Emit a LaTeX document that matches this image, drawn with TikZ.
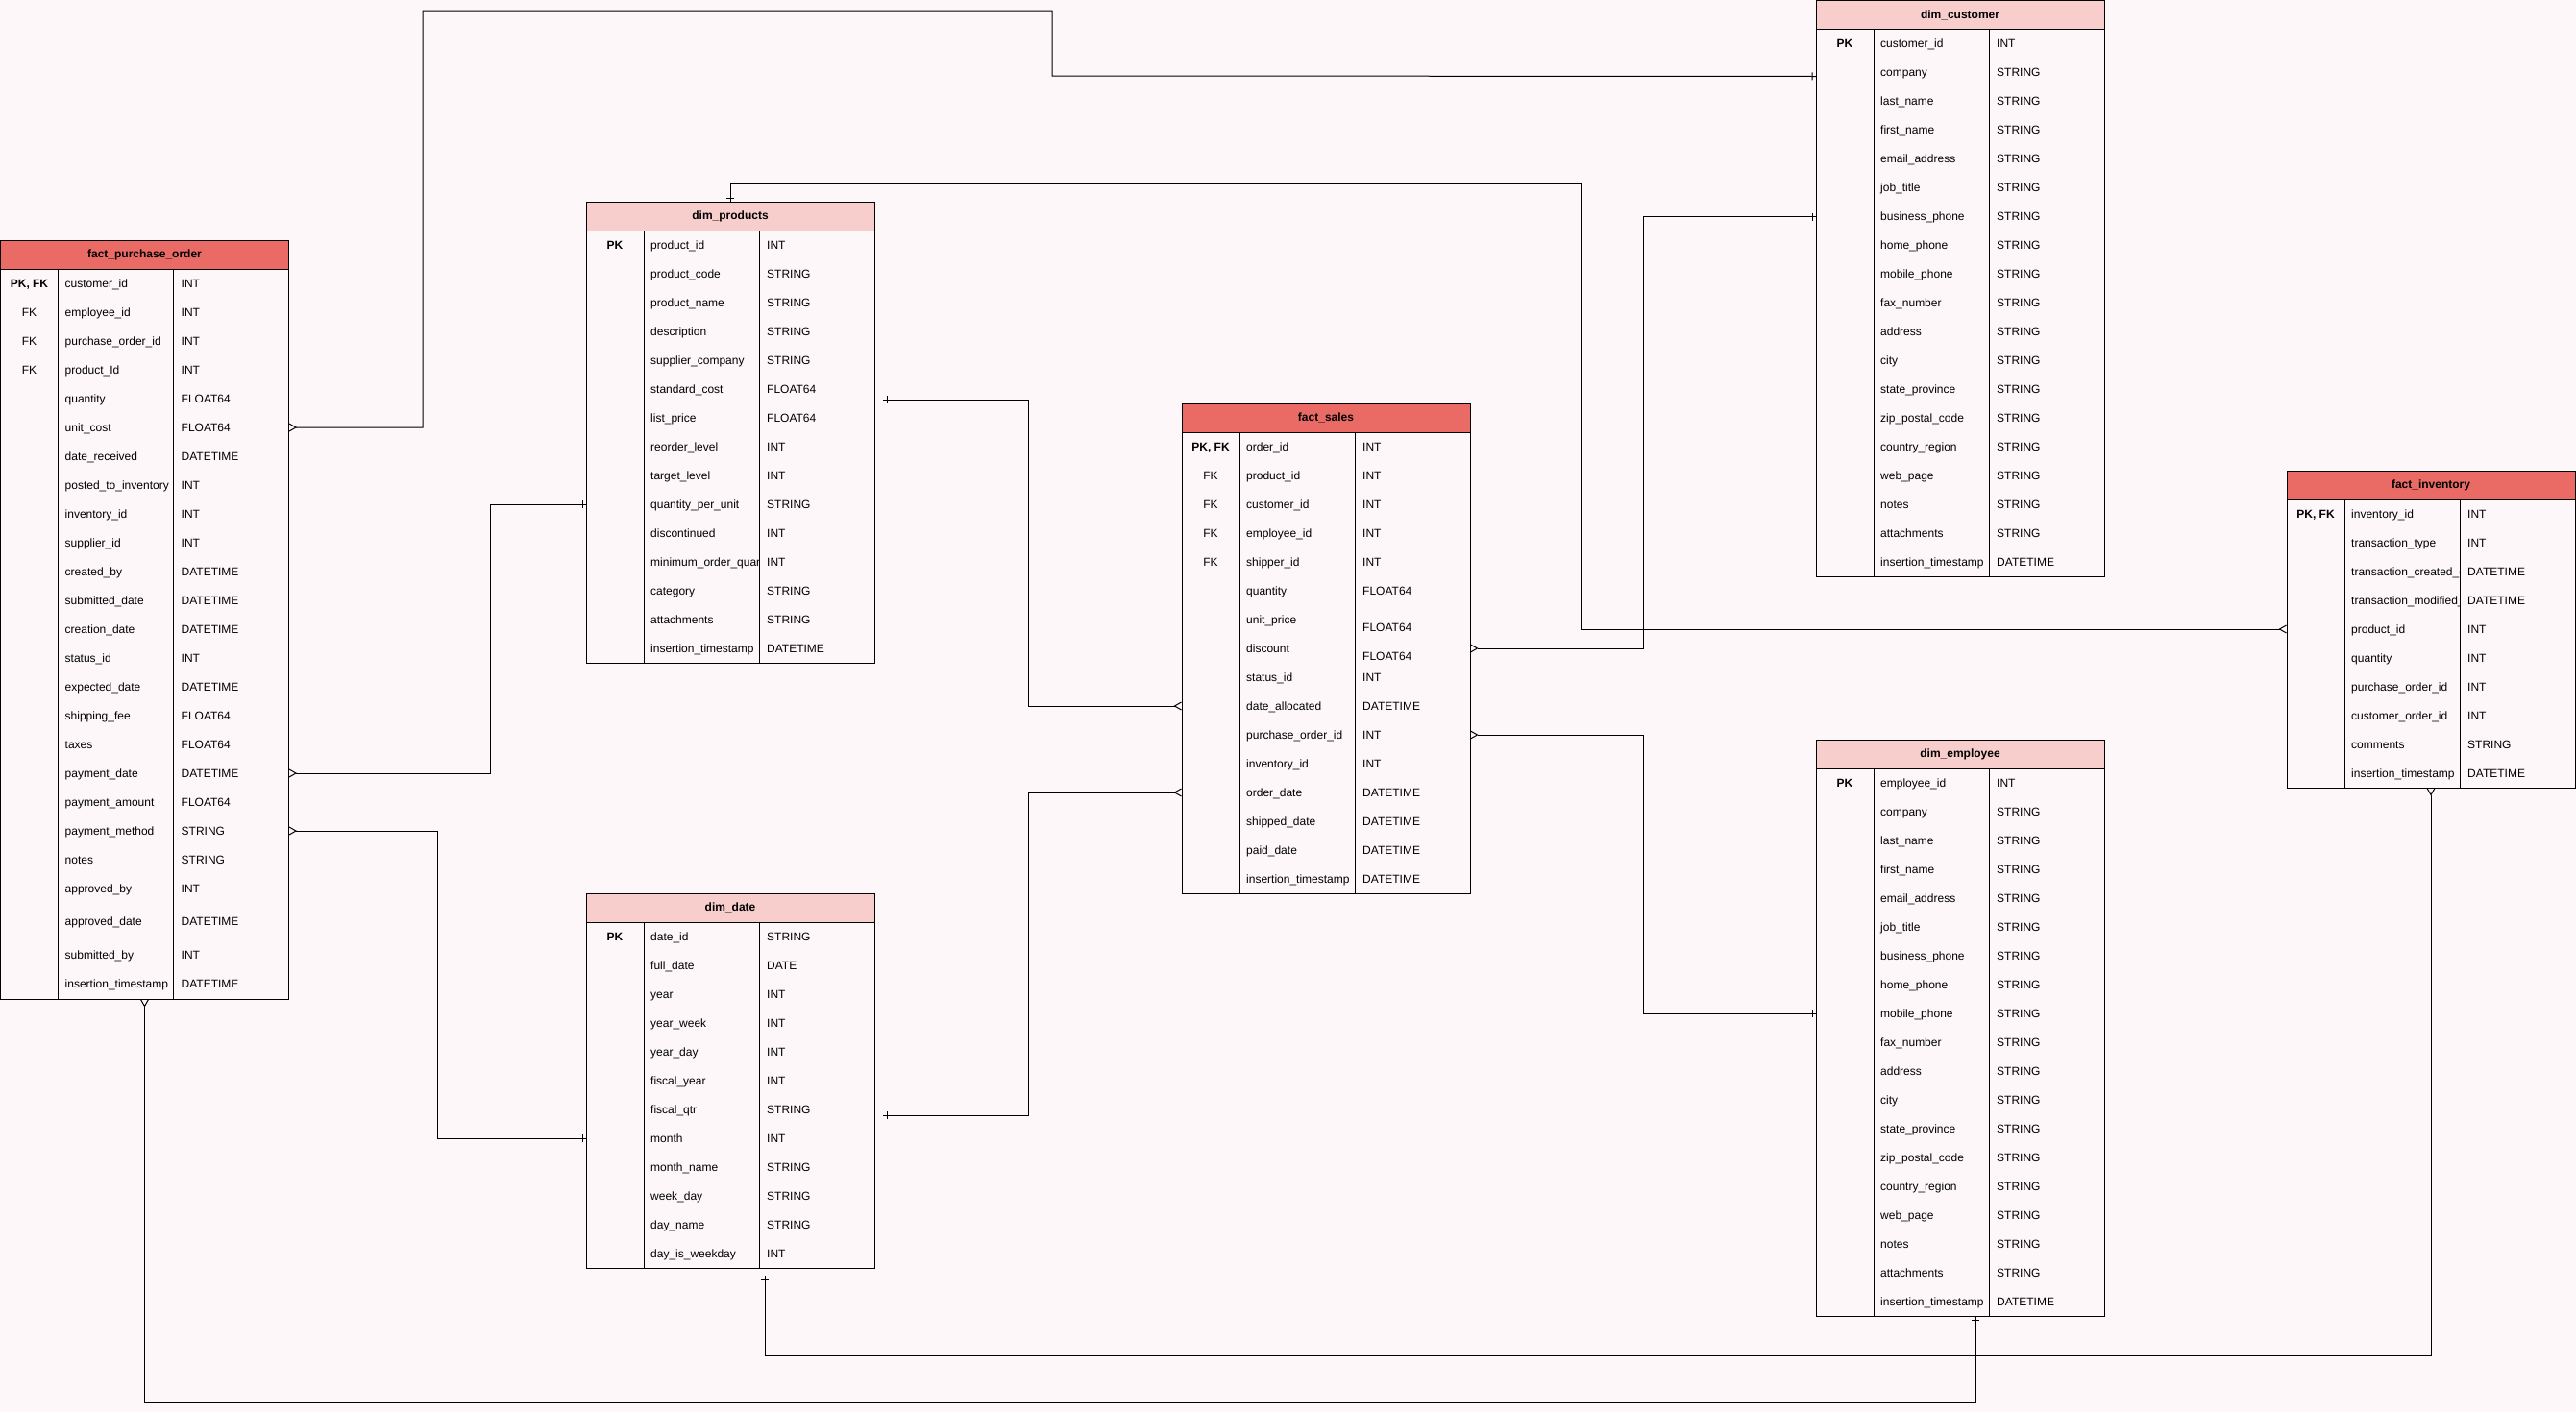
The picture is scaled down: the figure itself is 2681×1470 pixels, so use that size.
\documentclass[tikz,border=0pt]{standalone}
\usepackage{fontspec}
\setmainfont{Liberation Sans}
\usetikzlibrary{arrows.meta, calc, decorations.markings}

\definecolor{bgpink}{HTML}{FEF7F9}
\definecolor{factred}{HTML}{EA6B66}
\definecolor{dimpink}{HTML}{F8CECC}

\newcommand{\pk}{\textbf{PK}}
\newcommand{\pkfk}{\textbf{PK, FK}}
\newcommand{\lw}[2]{\raisebox{-#1pt}{#2}}
\newcommand{\dn}[1]{\lw{8}{#1}}

% #1 name, #2 title, #3 header colour, #4 x, #5 y, #6 body height, #7 rows
\newcommand{\ertable}[7]{%
  \node[tblbody, minimum height=30+#6] (#1) at (#4,#5) {};
  \node[tblhead, fill=#3] (#1-h) at (#4,#5) {#2};
  \draw[line width=1pt] (#4+60,#5+30) -- (#4+60,#5+30+#6);
  \draw[line width=1pt] (#4+180,#5+30) -- (#4+180,#5+30+#6);
  \begin{scope}
    \clip (#4+60,#5+30) rectangle (#4+180,#5+30+#6);
    \foreach \k/\f/\t [count=\i] in {#7}
      \node[nametxt] (#1-n\i) at (#4+67,#5+19+30*\i) {\f};
  \end{scope}
  \foreach \k/\f/\t [count=\i] in {#7} {
    \coordinate (#1-\i) at (#4,#5+15+30*\i);
    \node[keytxt] (#1-k\i) at (#4+30,#5+19+30*\i) {\k};
    \node[typetxt] (#1-t\i) at (#4+188,#5+19+30*\i) {\t};
  }%
}

\begin{document}
\begin{tikzpicture}[
  x=1pt, y=-1pt,
  every node/.style={font=\fontsize{12pt}{14pt}\selectfont},
  tblbody/.style={draw, line width=1pt, fill=bgpink, anchor=north west,
                  minimum width=300, inner sep=0pt, outer sep=0pt},
  tblhead/.style={tblbody, minimum height=30,
                  font=\fontsize{12pt}{14pt}\selectfont\bfseries},
  keytxt/.style={anchor=base, inner sep=0pt},
  nametxt/.style={anchor=base west, inner sep=0pt},
  typetxt/.style={anchor=base west, inner sep=0pt},
  conn/.style={draw, line width=1pt},
  manystart/.style={{Straight Barb[reversed, length=7pt, width=8pt]}-},
  manyend/.style={-{Straight Barb[reversed, length=7pt, width=8pt]}},
  onestart/.style={postaction={decorate, decoration={markings,
      mark=at position 4pt with {\draw[-, line width=1pt] (0,-4pt) -- (0,4pt);}}}},
  oneend/.style={postaction={decorate, decoration={markings,
      mark=at position -4pt with {\draw[-, line width=1pt] (0,-4pt) -- (0,4pt);}}}},
]
\useasboundingbox (0,0) rectangle (2681,1470);
\fill[bgpink] (0,0) rectangle (2681,1470);

% fact tables
\ertable{fpo}{fact\_purchase\_order}{factred}{0.5}{250}{760}{
  \pkfk/customer\_id/INT, FK/employee\_id/INT, FK/purchase\_order\_id/INT,
  FK/product\_Id/INT, /quantity/FLOAT64, /unit\_cost/FLOAT64,
  /date\_received/DATETIME, /posted\_to\_inventory/INT, /inventory\_id/INT,
  /supplier\_id/INT, /created\_by/DATETIME, /submitted\_date/DATETIME,
  /creation\_date/DATETIME, /status\_id/INT, /expected\_date/DATETIME,
  /shipping\_fee/FLOAT64, /taxes/FLOAT64, /payment\_date/DATETIME,
  /payment\_amount/FLOAT64, /payment\_method/STRING, /notes/STRING,
  /approved\_by/INT, /\lw{4}{approved\_date}/\lw{4}{DATETIME},
  /\lw{9}{submitted\_by}/\lw{9}{INT},
  /\lw{9}{insertion\_timestamp}/\lw{9}{DATETIME}}

\ertable{fs}{fact\_sales}{factred}{1230}{420}{480}{
  \pkfk/order\_id/INT, FK/product\_id/INT, FK/customer\_id/INT,
  FK/employee\_id/INT, FK/shipper\_id/INT, /quantity/FLOAT64,
  /unit\_price/\dn{FLOAT64}, /discount/\dn{FLOAT64}, /status\_id/INT,
  /date\_allocated/DATETIME, /purchase\_order\_id/INT, /inventory\_id/INT,
  /order\_date/DATETIME, /shipped\_date/DATETIME, /paid\_date/DATETIME,
  /insertion\_timestamp/DATETIME}

\ertable{fin}{fact\_inventory}{factred}{2380}{490}{300}{
  \pkfk/inventory\_id/INT, /transaction\_type/INT,
  /transaction\_created\_date/DATETIME, /transaction\_modified\_date/DATETIME,
  /product\_id/INT, /quantity/INT, /purchase\_order\_id/INT,
  /customer\_order\_id/INT, /comments/STRING, /insertion\_timestamp/DATETIME}

% dimension tables
\ertable{dpr}{dim\_products}{dimpink}{610}{210}{450}{
  \pk/product\_id/INT, /product\_code/STRING, /product\_name/STRING,
  /description/STRING, /supplier\_company/STRING, /standard\_cost/FLOAT64,
  /list\_price/FLOAT64, /reorder\_level/INT, /target\_level/INT,
  /quantity\_per\_unit/STRING, /discontinued/INT,
  /minimum\_order\_quantity/INT, /category/STRING, /attachments/STRING,
  /insertion\_timestamp/DATETIME}

\ertable{dd}{dim\_date}{dimpink}{610}{930}{360}{
  \pk/date\_id/STRING, /full\_date/DATE, /year/INT, /year\_week/INT,
  /year\_day/INT, /fiscal\_year/INT, /fiscal\_qtr/STRING, /month/INT,
  /month\_name/STRING, /week\_day/STRING, /day\_name/STRING,
  /day\_is\_weekday/INT}

\ertable{dcu}{dim\_customer}{dimpink}{1890}{0.5}{570}{
  \pk/customer\_id/INT, /company/STRING, /last\_name/STRING,
  /first\_name/STRING, /email\_address/STRING, /job\_title/STRING,
  /business\_phone/STRING, /home\_phone/STRING, /mobile\_phone/STRING,
  /fax\_number/STRING, /address/STRING, /city/STRING,
  /state\_province/STRING, /zip\_postal\_code/STRING,
  /country\_region/STRING, /web\_page/STRING, /notes/STRING,
  /attachments/STRING, /insertion\_timestamp/DATETIME}

\ertable{de}{dim\_employee}{dimpink}{1890}{770}{570}{
  \pk/employee\_id/INT, /company/STRING, /last\_name/STRING,
  /first\_name/STRING, /email\_address/STRING, /job\_title/STRING,
  /business\_phone/STRING, /home\_phone/STRING, /mobile\_phone/STRING,
  /fax\_number/STRING, /address/STRING, /city/STRING,
  /state\_province/STRING, /zip\_postal\_code/STRING,
  /country\_region/STRING, /web\_page/STRING, /notes/STRING,
  /attachments/STRING, /insertion\_timestamp/DATETIME}

% loose connector ends
\coordinate (dpr-out) at (919,416);
\coordinate (dd-out)  at (919,1161);
\coordinate (dd-low)  at (796,1328);

% relations
\draw[conn, manystart, oneend] (fpo.east |- fpo-6) -| (440,11) -| (1095,79)
  -- ($(dcu.west |- dcu-2)+(0,4)$);
\draw[conn, onestart, manyend] (dcu.west |- dcu-7) -| (1710,675) -- (fs.east |- fs-8);
\draw[conn, onestart, manyend] (dpr.north) |- (1645,191) |- (fin.west |- fin-5);
\draw[conn, onestart, manyend] (dpr-out) -| (1070,735) -- (fs.west |- fs-10);
\draw[conn, onestart, manyend] (dpr.west |- dpr-10) -| (510,805) -- (fpo.east |- fpo-18);
\draw[conn, onestart, manyend] (dd.west |- dd-8) -| (455,865) -- (fpo.east |- fpo-20);
\draw[conn, onestart, manyend] (dd-out) -| (1070,825) -- (fs.west |- fs-13);
\draw[conn, onestart, manyend] (dd-low) |- (2530,1411) -- (fin.south);
\draw[conn, manystart, oneend] (fpo.south) |- (2056,1460) -- ($(de.south)+(16,0)$);
\draw[conn, manystart, oneend] (fs.east |- fs-11) -| (1710,1055) -- (de.west |- de-9);
\end{tikzpicture}
\end{document}
